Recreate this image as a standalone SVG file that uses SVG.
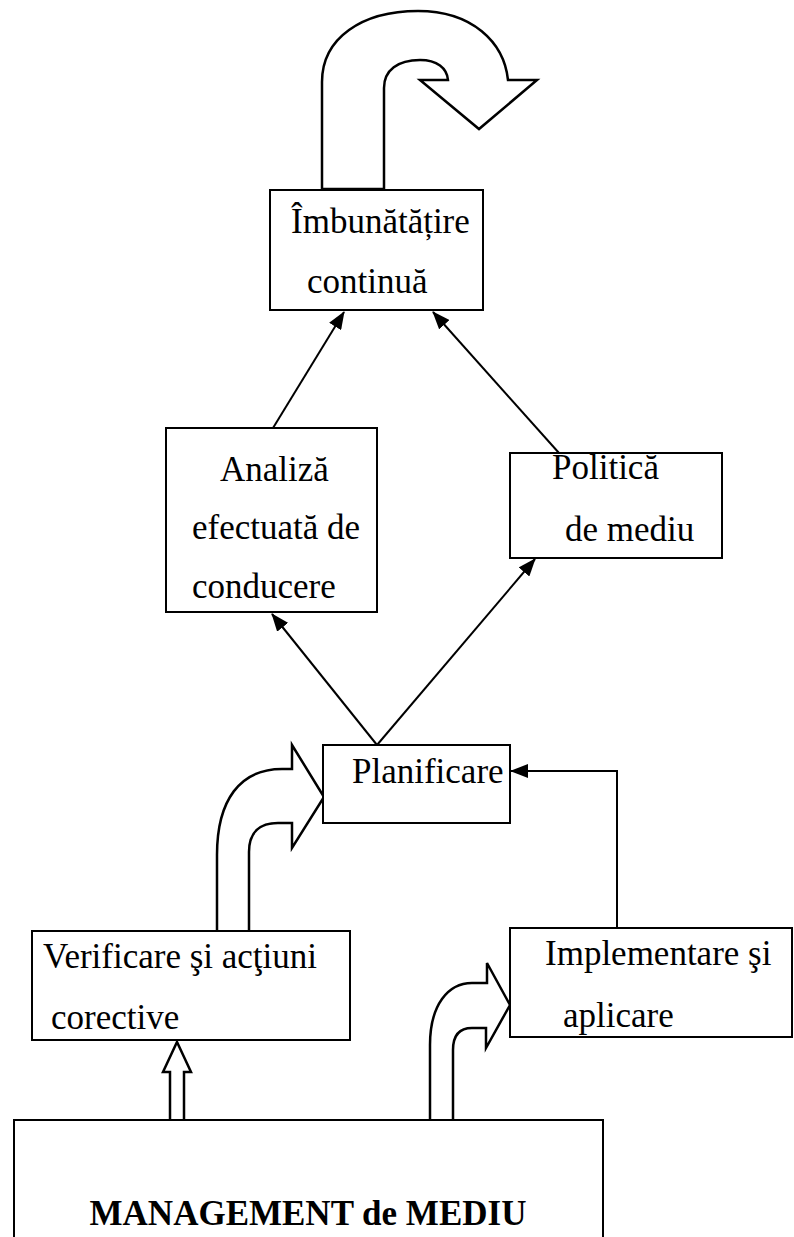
<svg xmlns="http://www.w3.org/2000/svg" width="794" height="1237" viewBox="0 0 794 1237">
<style>
.box{fill:#fff;stroke:#000;stroke-width:2}
.t{font-family:"Liberation Serif","Times New Roman",serif;font-size:35px;fill:#000}
.b{font-family:"Liberation Serif","Times New Roman",serif;font-size:35px;font-weight:bold;fill:#000}
.ln{fill:none;stroke:#000;stroke-width:2}
.blk{fill:#fff;stroke:#000;stroke-width:2.5;stroke-linejoin:miter}
</style>
<defs>
<marker id="ah" viewBox="0 0 18 14" refX="17" refY="7" markerWidth="18" markerHeight="14" markerUnits="userSpaceOnUse" orient="auto">
<path d="M0,0 L18,7 L0,14 Z" fill="#000"/>
</marker>
</defs>
<g id="connectors">
<path class="blk" d="M322,189 L322,82 C322,38 362,11 418,11 C472,11 504,42 508,80 L537,80 L479,129 L420,80 L448,80 C447,68 437,60 420,60 C398,60 384,70 384,88 L384,189 Z"/>
<line class="ln" x1="273" y1="428" x2="344" y2="312" marker-end="url(#ah)"/>
<line class="ln" x1="559" y1="453" x2="433" y2="312" marker-end="url(#ah)"/>
<line class="ln" x1="377" y1="745" x2="272" y2="614" marker-end="url(#ah)"/>
<line class="ln" x1="377" y1="745" x2="535" y2="559" marker-end="url(#ah)"/>
<polyline class="ln" points="617,928 617,771 511,771" marker-end="url(#ah)"/>
<path class="blk" d="M217,931 L217,855 C217,800 240,769 282,769 L292,769 L292,745 L324,797 L292,848 L292,823 L278,823 C260,823 249,832 249,852 L249,931"/>
<path class="blk" d="M430,1120 L430,1045 C430,1005 448,983 472,983 L487,983 L487,963 L510,1005 L486,1048 L486,1028 L472,1028 C460,1028 453,1035 453,1050 L453,1120"/>
<path class="blk" d="M170,1120 L170,1072 L163,1072 L177,1042 L191,1072 L184,1072 L184,1120"/>
</g>
<g id="imbunatatire">
<rect class="box" x="270" y="190" width="213" height="120"/>
<text class="t" x="291" y="233">Îmbunătățire</text>
<text class="t" x="307" y="293">continuă</text>
</g>
<g id="analiza">
<rect class="box" x="166" y="428" width="211" height="184"/>
<text class="t" x="220" y="481">Analiză</text>
<text class="t" x="192" y="539">efectuată de</text>
<text class="t" x="192" y="598">conducere</text>
</g>
<g id="politica">
<rect class="box" x="510" y="453" width="212" height="105"/>
<text class="t" x="552" y="479">Politică</text>
<text class="t" x="565" y="541">de mediu</text>
</g>
<g id="planificare">
<rect class="box" x="323" y="745" width="187" height="78"/>
<text class="t" x="352" y="783">Planificare</text>
</g>
<g id="verificare">
<rect class="box" x="32" y="931" width="318" height="109"/>
<text class="t" x="43" y="968">Verificare şi acţiuni</text>
<text class="t" x="51" y="1029">corective</text>
</g>
<g id="implementare">
<rect class="box" x="510" y="928" width="282" height="109"/>
<text class="t" x="545" y="965">Implementare şi</text>
<text class="t" x="563" y="1027">aplicare</text>
</g>
<g id="management">
<path class="box" d="M14,1240 L14,1120 L603,1120 L603,1240"/>
<text class="b" x="308" y="1225" text-anchor="middle">MANAGEMENT de MEDIU</text>
</g>
</svg>
